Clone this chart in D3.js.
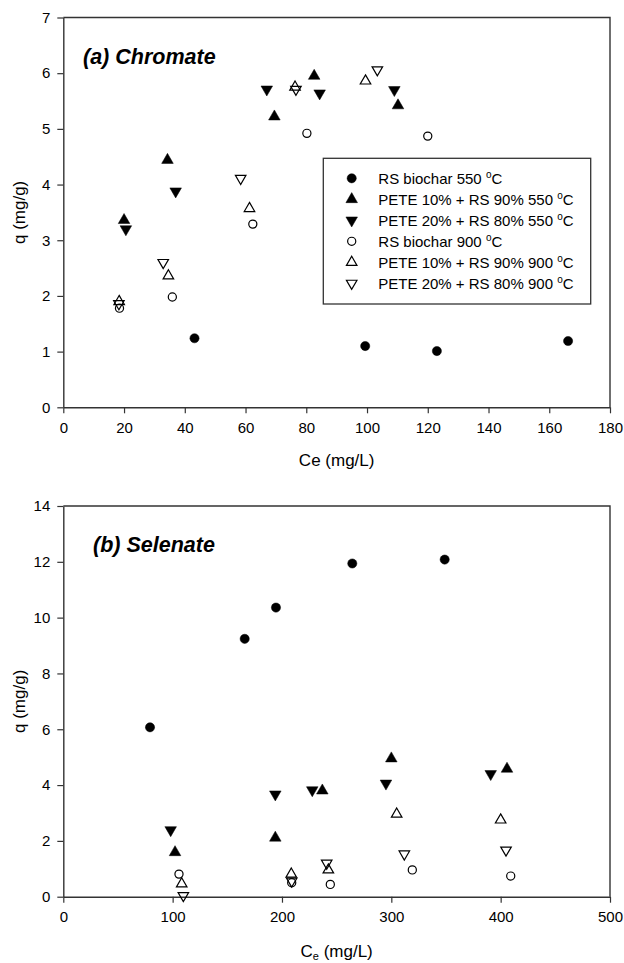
<!DOCTYPE html>
<html>
<head>
<meta charset="utf-8">
<script src="https://cdn.jsdelivr.net/npm/d3@7"></script>
<style>
  html, body { margin: 0; padding: 0; background: #fff; }
  svg { display: block; }
  text { font-family: "Liberation Sans", Arial, sans-serif; fill: #000; }
</style>
</head>
<body>
<svg id="chart" width="624" height="963"></svg>
<script>
// ---------- DATA ----------
const seriesNames = [
  "RS biochar 550",
  "PETE 10% + RS 90% 550",
  "PETE 20% + RS 80% 550",
  "RS biochar 900",
  "PETE 10% + RS 90% 900",
  "PETE 20% + RS 80% 900"
];
// (a) Chromate : Ce (mg/L), q (mg/g)
const chromateCe = [
  [43.2, 99.4, 123.0, 166.2],
  [20.0, 34.3, 69.5, 82.6, 110.2],
  [20.6, 37.0, 67.0, 84.4, 109.0],
  [18.5, 35.9, 62.4, 80.2, 120.0],
  [18.4, 34.6, 61.3, 76.3, 99.5],
  [18.3, 32.9, 58.4, 76.6, 103.4]
];
const chromateQ = [
  [1.24, 1.10, 1.01, 1.19],
  [3.36, 4.44, 5.22, 5.95, 5.42],
  [3.20, 3.88, 5.71, 5.64, 5.70],
  [1.78, 1.98, 3.29, 4.92, 4.87],
  [1.90, 2.36, 3.57, 5.75, 5.86],
  [1.86, 2.60, 4.11, 5.71, 6.06]
];
// (b) Selenate
const selenateCe = [
  [79.3, 165.9, 194.5, 264.3, 348.8],
  [102.2, 193.9, 236.9, 300.0, 405.8],
  [98.2, 193.9, 227.7, 295.1, 390.9],
  [105.8, 208.9, 244.2, 319.2, 409.2],
  [108.3, 208.5, 242.4, 304.9, 400.0],
  [109.8, 208.9, 240.9, 311.9, 404.9]
];
const selenateQ = [
  [6.07, 9.24, 10.36, 11.94, 12.08],
  [1.59, 2.11, 3.80, 4.95, 4.58],
  [2.39, 3.67, 3.82, 4.06, 4.40],
  [0.81, 0.50, 0.44, 0.96, 0.74],
  [0.46, 0.81, 0.96, 2.96, 2.75],
  [0.04, 0.56, 1.20, 1.53, 1.67]
];
const chromateXTicks = [0, 20, 40, 60, 80, 100, 120, 140, 160, 180];
const chromateYTicks = [0, 1, 2, 3, 4, 5, 6, 7];
const selenateXTicks = [0, 100, 200, 300, 400, 500];
const selenateYTicks = [0, 2, 4, 6, 8, 10, 12, 14];

// marker style per series: shape, filled
const markerShape = ["circle", "up", "down", "circle", "up", "down"];
const markerFilled = [true, true, true, false, false, false];

// ---------- DRAWING ----------
const svg = d3.select("#chart");
const left = 63.3, right = 610;
const FONT = "'Liberation Sans', Arial, sans-serif";

function markerPath(shape, filled) {
  if (shape === "circle") {
    return d3.symbol().type(d3.symbolCircle).size(filled ? 66 : 52)();
  }
  return d3.symbol().type(d3.symbolTriangle).size(filled ? 58 : 48)();
}
function drawMarker(g, shape, filled, x, y) {
  g.append("path")
    .attr("d", markerPath(shape, filled))
    .attr("transform", `translate(${x},${y})` + (shape === "down" ? " rotate(180)" : ""))
    .attr("fill", filled ? "#000" : "#fff")
    .attr("fill-opacity", filled ? 1 : 0)
    .attr("stroke", "#000")
    .attr("stroke-width", filled ? 0.5 : 1.2);
}

function panel(opts) {
  const g = svg.append("g");
  const x = d3.scaleLinear().domain(opts.xDomain).range([left, right]);
  const y = d3.scaleLinear().domain(opts.yDomain).range([opts.bottom, opts.top]);

  // frame (top & right)
  g.append("path")
    .attr("d", `M${left},${opts.top}H${right}V${opts.bottom}`)
    .attr("fill", "none").attr("stroke", "#333").attr("stroke-width", 1.4);

  const xa = g.append("g").attr("transform", `translate(0,${opts.bottom})`)
    .call(d3.axisBottom(x).tickValues(opts.xTicks).tickFormat(d3.format("d"))
      .tickSize(6).tickSizeOuter(0).tickPadding(9));
  const ya = g.append("g").attr("transform", `translate(${left},0)`)
    .call(d3.axisLeft(y).tickValues(opts.yTicks).tickFormat(d3.format("d"))
      .tickSize(6).tickSizeOuter(0).tickPadding(7));
  [xa, ya].forEach(a => {
    a.attr("font-size", null).attr("font-family", null);
    a.selectAll("text").style("font-size", "15px").style("font-family", FONT).attr("fill", "#000");
    a.selectAll("line").attr("stroke", "#333").attr("stroke-width", 1.2);
    a.select(".domain").attr("stroke", "#333").attr("stroke-width", 1.4);
  });

  // y label
  g.append("text")
    .attr("transform", `translate(25,${(opts.top + opts.bottom) / 2}) rotate(-90)`)
    .attr("text-anchor", "middle")
    .style("font-size", "17px")
    .text("q (mg/g)");

  // x label
  const xl = g.append("text")
    .attr("x", (left + right) / 2).attr("y", opts.xLabelY)
    .attr("text-anchor", "middle").style("font-size", "17px");
  if (opts.subscript) {
    xl.append("tspan").text("C");
    xl.append("tspan").attr("dy", 3).style("font-size", "11px").text("e");
    xl.append("tspan").attr("dy", -3).text(" (mg/L)");
  } else {
    xl.text("Ce (mg/L)");
  }

  // title
  g.append("text")
    .attr("x", opts.titleX).attr("y", opts.titleY)
    .style("font-size", "21.5px").style("font-weight", "bold").style("font-style", "italic")
    .text(opts.title);

  // points
  const pts = g.append("g");
  opts.ce.forEach((arr, i) => {
    arr.forEach((cv, j) => {
      drawMarker(pts, markerShape[i], markerFilled[i], x(cv), y(opts.q[i][j]));
    });
  });
  return g;
}

panel({
  xDomain: [0, 180], yDomain: [0, 7], top: 17.5, bottom: 407.3,
  xTicks: chromateXTicks, yTicks: chromateYTicks,
  xLabelY: 466, subscript: false,
  title: "(a) Chromate", titleX: 83, titleY: 64,
  ce: chromateCe, q: chromateQ
});
panel({
  xDomain: [0, 500], yDomain: [0, 14], top: 506, bottom: 896.7,
  xTicks: selenateXTicks, yTicks: selenateYTicks,
  xLabelY: 957, subscript: true,
  title: "(b) Selenate", titleX: 93, titleY: 552,
  ce: selenateCe, q: selenateQ
});

// legend
const lg = svg.append("g");
lg.append("rect").attr("x", 323.3).attr("y", 158.3).attr("width", 267.4).attr("height", 145.7)
  .attr("fill", "#fff").attr("stroke", "#333").attr("stroke-width", 1.3);
seriesNames.forEach((name, i) => {
  const yy = 178.3 + i * 21;
  drawMarker(lg, markerShape[i], markerFilled[i], 351.7, yy);
  const t = lg.append("text").attr("x", 378.3).attr("y", yy + 5.5).style("font-size", "15px");
  t.append("tspan").text(name + " ");
  t.append("tspan").attr("dy", -6).style("font-size", "10px").text("o");
  t.append("tspan").attr("dy", 6).text("C");
});
</script>
</body>
</html>
